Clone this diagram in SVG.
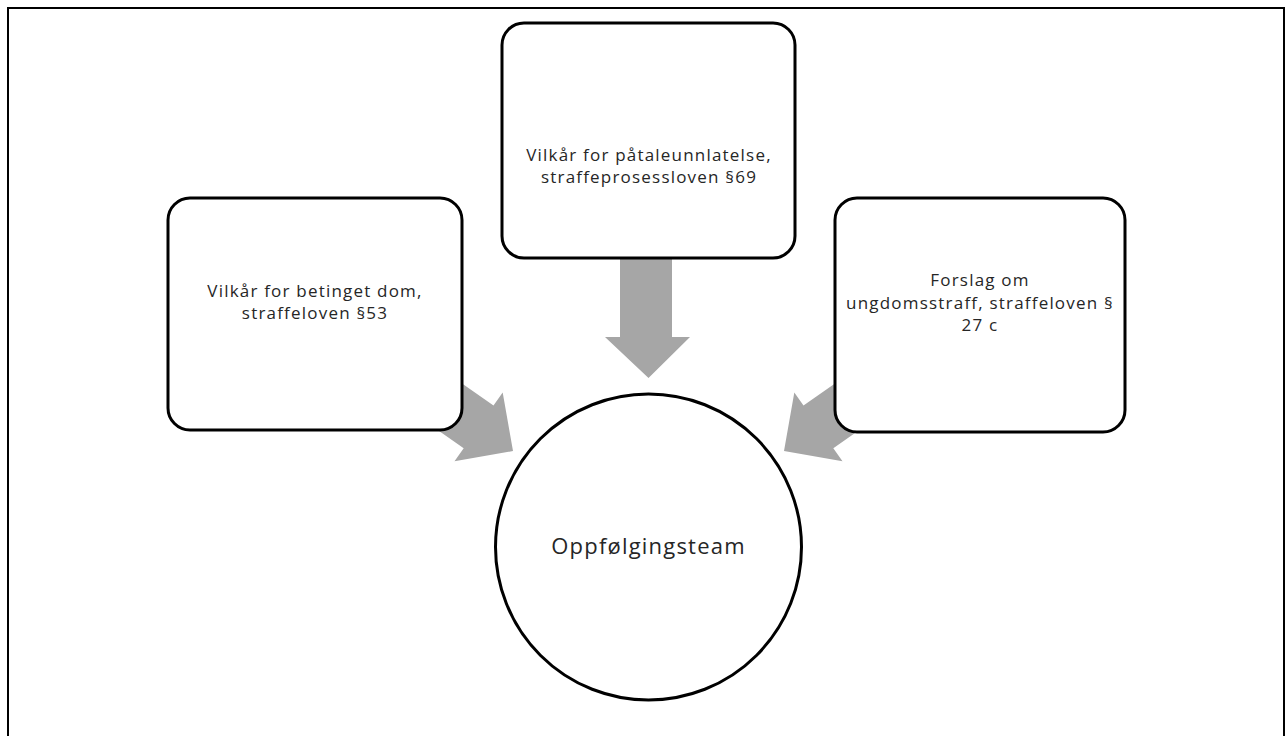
<svg xmlns="http://www.w3.org/2000/svg" width="1286" height="736" viewBox="0 0 1286 736">
<style>
.box{fill:#ffffff;stroke:#000000;stroke-width:3}
.arrow{fill:#a6a6a6;stroke:none}
.t{font-family:"Open Sans","Noto Sans",sans-serif;font-size:17px;fill:#262626;text-anchor:middle;letter-spacing:1.2px}
.tc{font-family:"Open Sans","Noto Sans",sans-serif;font-size:22px;fill:#262626;text-anchor:middle;letter-spacing:1.2px}
</style>
<defs>
<polygon id="arr" points="0,0 -42,-42 -42,-26 -180,-26 -180,26 -42,26 -42,42"/>
</defs>
<rect width="1286" height="736" fill="#ffffff"/>
<path d="M8,740 L8,8 L1284,8 L1284,740" fill="none" stroke="#000000" stroke-width="2"/>
<g id="connectors">
<use href="#arr" class="arrow" transform="translate(513,451) rotate(35)"/>
<use href="#arr" class="arrow" transform="translate(784,451) rotate(145)"/>
<polygon class="arrow" points="620,250 672,250 672,337 690,337 648.5,378 605,337 620,337"/>
</g>
<g id="node-top">
<rect class="box" x="502" y="23" width="293" height="235" rx="22"/>
<text class="t" x="649" y="161">Vilkår for påtaleunnlatelse,</text>
<text class="t" x="649" y="183">straffeprosessloven §69</text>
</g>
<g id="node-left">
<rect class="box" x="168" y="198" width="294" height="232" rx="22"/>
<text class="t" x="315" y="297">Vilkår for betinget dom,</text>
<text class="t" x="315" y="319">straffeloven §53</text>
</g>
<g id="node-right">
<rect class="box" x="835" y="198" width="290" height="234" rx="22"/>
<text class="t" x="980" y="286">Forslag om</text>
<text class="t" x="980" y="309">ungdomsstraff, straffeloven §</text>
<text class="t" x="980" y="331">27 c</text>
</g>
<g id="node-center">
<circle class="box" cx="648.5" cy="547" r="153"/>
<text class="tc" x="648.5" y="554">Oppfølgingsteam</text>
</g>
</svg>
